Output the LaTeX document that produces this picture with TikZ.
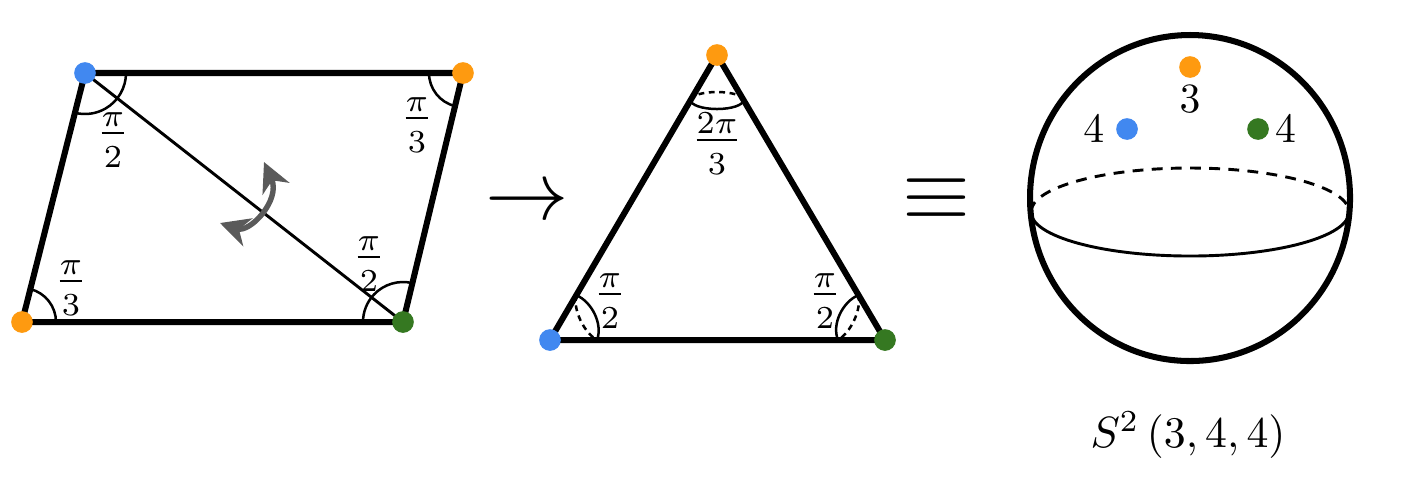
\documentclass[tikz,border=0pt]{standalone}
\usepackage{amsmath}
\usetikzlibrary{arrows.meta,positioning}

\definecolor{vorange}{HTML}{FE9A10}
\definecolor{vblue}{HTML}{4188F0}
\definecolor{vgreen}{HTML}{357821}
\definecolor{rotgray}{HTML}{5A5A5A}

\newcommand{\afrac}[2]{\frac{#1}{\raisebox{-1.6pt}{$\scriptstyle #2$}}}

\tikzset{
  vtx/.style={circle,inner sep=0pt,minimum size=5.2pt},
  edge/.style={line width=1.45pt},
  ang/.style={line width=0.6pt},
  frc/.style={scale=1.1},
  smalldash/.style={dash pattern=on 1.4pt off 1.1pt},
  lbl/.style={inner sep=0.5pt}
}

\begin{document}
\begin{tikzpicture}[%
x=0.24pt, y=0.24pt,
>={Stealth[length=7pt,width=7pt,inset=2.2pt]}
]
\useasboundingbox (0,0) rectangle (1420,-498);

% parallelogram
\coordinate (pbl) at (22,-322);
\coordinate (ptl) at (85,-73);
\coordinate (ptr) at (463,-73);
\coordinate (pbr) at (403,-322);

\draw[edge] (pbl) -- (ptl) -- (ptr) -- (pbr) -- cycle;
\draw[line width=0.7pt] (ptl) -- (pbr);

\draw[ang] (ptl) ++(0:41) arc[start angle=0,end angle=-104.2,radius=41];
\draw[ang] (ptr) ++(180:34) arc[start angle=180,end angle=256.5,radius=34];
\draw[ang] (pbl) ++(0:34) arc[start angle=0,end angle=75.8,radius=34];
\draw[ang] (pbr) ++(76.5:40) arc[start angle=76.5,end angle=180,radius=40];

\node[frc] (f1) at (113,-140) {$\afrac{\pi}{2}$};
\node[frc] (f2) at (417,-125) {$\afrac{\pi}{3}$};
\node[frc] (f3) at (71,-288) {$\afrac{\pi}{3}$};
\node[frc] (f4) at (369,-264) {$\afrac{\pi}{2}$};

\draw[<->,line width=1.3pt,draw=rotgray,>={Stealth[length=7pt,width=7pt,inset=2.2pt,fill=rotgray]}]
  (220,-223) .. controls (250,-233) and (281,-200) .. (264,-162);

\node[vtx,fill=vorange] (dbl) at (pbl) {};
\node[vtx,fill=vblue] (dtl) at (ptl) {};
\node[vtx,fill=vorange] (dtr) at (ptr) {};
\node[vtx,fill=vgreen] (dbr) at (pbr) {};

\node[scale=2] (to) at (527,-204) {$\rightarrow$};

% triangle
\coordinate (tt) at (717,-55);
\coordinate (tl) at (550,-340);
\coordinate (tr) at (885,-340);

\draw[edge] (tl) -- (tt) -- (tr) -- cycle;

\draw[ang] (690.5,-100) arc[start angle=180,end angle=360,x radius=26.5,y radius=9];
\draw[ang,smalldash] (690.5,-100) arc[start angle=180,end angle=0,x radius=26.5,y radius=8];
\draw[ang] (576,-295) .. controls (592,-301.75) and (603,-324.25) .. (597,-340);
\draw[ang,smalldash] (576,-295) .. controls (573,-309.6) and (583.5,-332) .. (597,-340);
\draw[ang] (858.5,-295) .. controls (842.5,-301.75) and (831.5,-324.25) .. (838,-340);
\draw[ang,smalldash] (858.5,-295) .. controls (861.5,-309.6) and (851,-332) .. (838,-340);

\node[frc] (g1) at (717,-144) {$\afrac{2\pi}{3}$};
\node[frc] (g2) at (610,-301) {$\afrac{\pi}{2}$};
\node[frc] (g3) at (825,-301) {$\afrac{\pi}{2}$};

\node[vtx,fill=vorange] (dtt) at (tt) {};
\node[vtx,fill=vblue] (dtl2) at (tl) {};
\node[vtx,fill=vgreen] (dtr2) at (tr) {};

\node[scale=2.1] (eq) at (937,-199) {$\equiv$};

% sphere
\coordinate (sc) at (1190,-198);
\draw[edge] (sc) circle[x radius=160,y radius=163];
\draw[line width=0.7pt] (1031,-212) arc[start angle=180,end angle=360,x radius=159,y radius=44];
\draw[line width=0.7pt,dash pattern=on 2.6pt off 2pt] (1031,-212) arc[start angle=180,end angle=0,x radius=159,y radius=44];

\node[vtx,fill=vorange] (so) at (1190,-67) {};
\node[vtx,fill=vblue] (sb) at (1127,-129) {};
\node[vtx,fill=vgreen] (sg) at (1258,-129) {};

\node[lbl,below=1pt of so] (n3) {$3$};
\node[lbl,left=2pt of sb] (n4a) {$4$};
\node[lbl,right=0.6pt of sg] (n4b) {$4$};

\node[scale=1.05] (s2) at (1188,-435) {$S^2\,(3,4,4)$};

\end{tikzpicture}
\end{document}
